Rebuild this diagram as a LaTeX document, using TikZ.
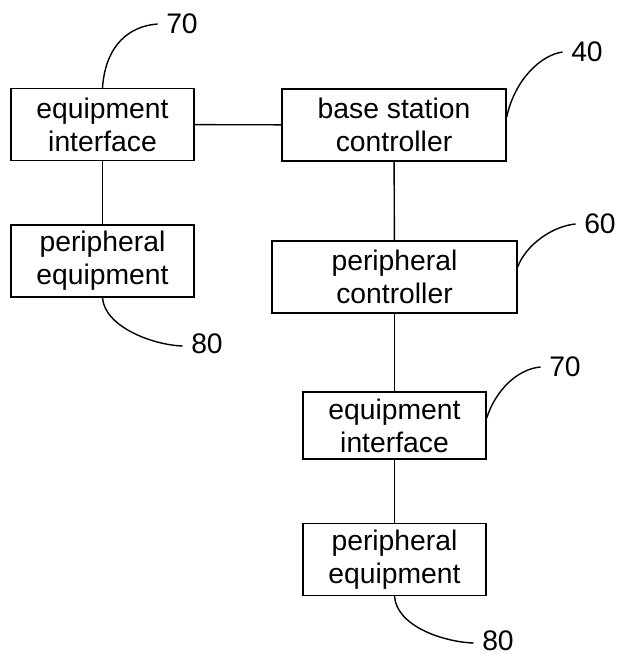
\documentclass[tikz,border=0pt]{standalone}
\usepackage{fontspec}
\setmainfont{Liberation Sans}
\usepackage{tikz}
\usetikzlibrary{positioning,calc}

\begin{document}
\begin{tikzpicture}[x=1pt,y=-1pt,line width=1.4pt,
	box/.style={draw,align=center,inner sep=0pt,minimum height=72pt,font=\fontsize{28.3}{33}\selectfont},
	num/.style={inner xsep=8pt,inner ysep=1pt,font=\fontsize{28.3}{33}\selectfont}]
	\useasboundingbox (0,0) rectangle (622,657);
	\node[box,minimum width=183pt] (ei1) at (102.5,124.5) {equipment\\interface};
	\node[box,minimum width=224pt] (bsc) at (394,125) {base station\\controller};
	\node[box,minimum width=183pt] (pe1) at (102.5,261) {peripheral\\equipment};
	\node[box,minimum width=245pt] (pc) at (394.5,277) {peripheral\\controller};
	\node[box,minimum width=183pt,minimum height=67pt] (ei2) at (394.5,425.5) {equipment\\interface};
	\node[box,minimum width=183pt] (pe2) at (394.5,559.5) {peripheral\\equipment};
	\node[num] (n70a) at (182,24) {70};
	\node[num] (n40) at (587,52) {40};
	\node[num] (n60) at (600,224) {60};
	\node[num] (n70b) at (565,367) {70};
	\node[num] (n80a) at (207,344) {80};
	\node[num] (n80b) at (498,641) {80};
	\draw (ei1) -- (bsc);
	\draw (ei1) -- (pe1);
	\draw (bsc) -- (pc);
	\draw (pc) -- (ei2);
	\draw (ei2) -- (pe2);
	% reference numerals
	\draw (ei1.north) .. controls +(3,-43) and +(-28,2) .. (n70a.west);
	\draw ([yshift=8pt]bsc.east) .. controls +(8,-37) and +(-22,3) .. (n40.west);
	\draw ([yshift=10pt]pc.east) .. controls +(8,-22) and +(-23,2) .. (n60.west);
	\draw ([yshift=7.5pt]ei2.east) .. controls +(9,-28) and +(-23,2) .. (n70b.west);
	\draw (pe1.south) .. controls +(2,29) and +(-30,-1) .. ([yshift=-2pt]n80a.west);
	\draw (pe2.south) .. controls +(2,30) and +(-30,-1) .. ([yshift=-2pt]n80b.west);
\end{tikzpicture}
\end{document}
